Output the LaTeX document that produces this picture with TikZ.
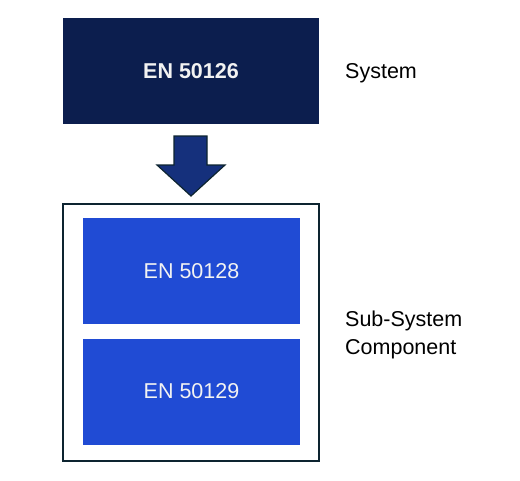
\documentclass[tikz,border=0pt]{standalone}
\usepackage{fontspec}
\setmainfont{Liberation Sans}
\definecolor{navy}{HTML}{0C1E4E}
\definecolor{arrowfill}{HTML}{15307C}
\definecolor{edge}{HTML}{0D2430}
\definecolor{boxblue}{HTML}{204BD4}
\definecolor{txt}{HTML}{F2F2F2}
\begin{document}
\begin{tikzpicture}[x=1pt,y=-1pt,
  topbox/.style={fill=navy,draw=none,minimum width=256pt,minimum height=106pt,inner sep=0pt,text=txt,font=\fontsize{21.5}{26}\selectfont\bfseries},
  subbox/.style={fill=boxblue,draw=none,minimum width=217pt,minimum height=106pt,inner sep=0pt,text=txt,font=\fontsize{21.5}{26}\selectfont},
  frame/.style={draw=edge,line width=2pt,fill=white,minimum width=256pt,minimum height=257pt,inner sep=0pt},
  label/.style={anchor=west,inner sep=0pt,font=\fontsize{21.5}{28}\selectfont,align=left,text=black}]
\useasboundingbox (0,0) rectangle (520,480);
\node[topbox] (sys) at (191,71) {EN 50126};
\node[frame] (grp) at (191,332.5) {};
\node[subbox] (a) at (191.5,271) {EN 50128};
\node[subbox] (b) at (191.5,391.5) {EN 50129};
\node[label] (ls) at (345,73) {System};
\node[label] (lc) at (345,335) {Sub-System\\Component};
% block arrow
\coordinate (tip) at (191,196);
\draw[draw=edge,line width=1.2pt,fill=arrowfill,line join=miter]
  (174,136) -- (207,136) -- (207,165) -- (225,165) -- (tip) -- (157,165) -- (174,165) -- cycle;
\end{tikzpicture}
\end{document}
